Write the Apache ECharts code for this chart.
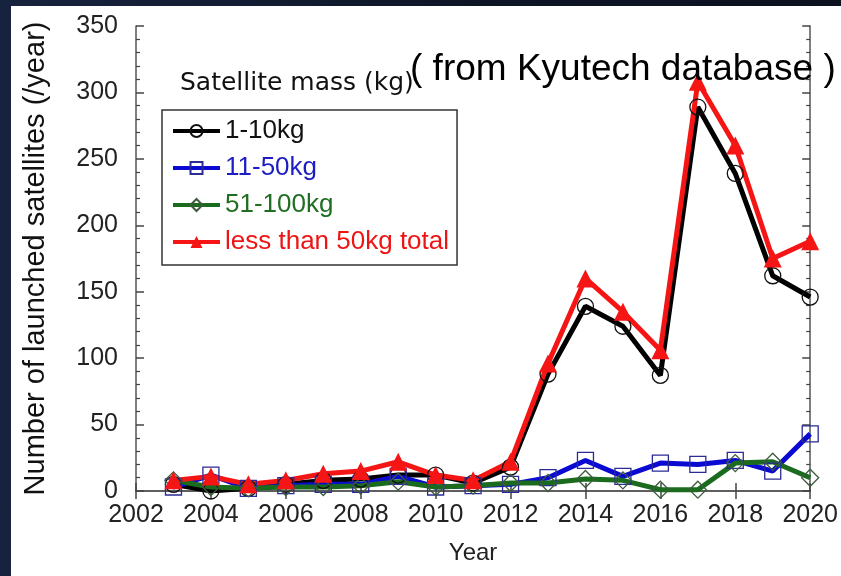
<!DOCTYPE html>
<html>
<head>
<meta charset="utf-8">
<script src="https://cdn.jsdelivr.net/npm/echarts@6/dist/echarts.min.js"></script>
<style>
  html, body { margin: 0; padding: 0; }
  body { width: 841px; height: 576px; background: linear-gradient(90deg, #17233e 0%, #0d1424 60%, #0b111f 100%); position: relative; overflow: hidden; }
  #paper { position: absolute; left: 11px; top: 6px; right: 0; bottom: 0; background: #fff; }
  #chart { position: absolute; left: 0; top: 0; width: 841px; height: 576px; }
</style>
</head>
<body>
<div id="paper"></div>
<div id="chart"></div>
<script>
const years = [2003, 2004, 2005, 2006, 2007, 2008, 2009, 2010, 2011, 2012, 2013, 2014, 2015, 2016, 2017, 2018, 2019, 2020];
const mass1to10 = [5, 0, 2, 5, 8, 9, 12, 12, 6, 18, 88, 139, 124, 87, 289, 239, 162, 146];
const mass11to50 = [3, 12, 2, 4, 5, 5, 11, 3, 4, 5, 10, 23, 11, 21, 20, 23, 15, 43];
const mass51to100 = [8, 3, 2, 3, 3, 4, 7, 3, 4, 6, 6, 9, 8, 1, 1, 21, 22, 10];
const under50Total = [8, 11, 5, 8, 13, 15, 22, 12, 8, 22, 96, 160, 135, 106, 308, 260, 175, 188];
const seriesNames = ['1-10kg', '11-50kg', '51-100kg', 'less than 50kg total'];

const font = 'Liberation Sans, Arial, Helvetica, sans-serif';
const pairs = vals => years.map((y, i) => [y, vals[i]]);

const myChart = echarts.init(document.querySelector('#chart'));

const axisLine = { show: true, lineStyle: { color: '#555', width: 1.5 } };

function makeSeries(name, vals, color, symbol, size, fill, border, width) {
  return {
    name: name,
    type: 'line',
    data: pairs(vals),
    symbol: symbol,
    symbolSize: size,
    showAllSymbol: true,
    lineStyle: { color: color, width: width },
    itemStyle: { color: fill, borderColor: border, borderWidth: fill === border ? 0 : 1.3 },
    emphasis: { disabled: true },
    animation: false
  };
}

myChart.setOption({
  animation: false,
  grid: { left: 136, right: 28, top: 26, bottom: 85 },
  legend: {
    orient: 'vertical',
    left: 162,
    top: 110,
    padding: [8, 8, 10, 9],
    itemWidth: 47,
    itemHeight: 15,
    itemGap: 11,
    borderColor: '#333',
    borderWidth: 1.5,
    backgroundColor: '#fff',
    textStyle: { fontFamily: font, fontSize: 26 },
    data: [
      { name: seriesNames[0], textStyle: { color: '#111' }, lineStyle: { width: 4 } },
      { name: seriesNames[1], textStyle: { color: '#1d1dc4' }, lineStyle: { width: 4 } },
      { name: seriesNames[2], textStyle: { color: '#1f6e22' }, lineStyle: { width: 4 } },
      { name: seriesNames[3], textStyle: { color: '#ee1414' }, lineStyle: { width: 4 } }
    ]
  },
  graphic: [
    {
      type: 'text', left: 180, top: 71, z: 100,
      style: { text: 'Satellite mass (kg)', fontFamily: 'DejaVu Sans', fontSize: 25, fill: '#111' }
    },
    {
      type: 'text', left: 410, top: 51, z: 100,
      style: { text: '( from Kyutech database )', fontFamily: font, fontSize: 37, fill: '#000' }
    }
  ],
  xAxis: [
    {
      type: 'value', min: 2002, max: 2020, interval: 2, position: 'bottom',
      name: 'Year', nameLocation: 'middle', nameGap: 50,
      nameTextStyle: { fontFamily: font, fontSize: 24, color: '#222' },
      axisLine: axisLine,
      axisTick: { show: true, inside: true, length: 8, lineStyle: { color: '#444', width: 1.5 } },
      axisLabel: { fontFamily: font, fontSize: 25, color: '#222', margin: 12, formatter: v => String(v) },
      splitLine: { show: false }
    },
    {
      type: 'value', min: 2002, max: 2020, interval: 2, position: 'top',
      axisLine: axisLine,
      axisTick: { show: true, inside: true, length: 8, lineStyle: { color: '#444', width: 1.5 } },
      axisLabel: { show: false },
      splitLine: { show: false }
    }
  ],
  yAxis: [
    {
      type: 'value', min: 0, max: 350, interval: 50, position: 'left',
      name: 'Number of launched satellites (/year)', nameLocation: 'middle', nameGap: 86,
      nameTextStyle: { fontFamily: font, fontSize: 29, color: '#111' },
      axisLine: axisLine,
      axisTick: { show: true, inside: true, length: 8, lineStyle: { color: '#444', width: 1.5 } },
      minorTick: { show: true, splitNumber: 5, length: 4, lineStyle: { color: '#444', width: 1.2 } },
      axisLabel: { fontFamily: font, fontSize: 25, color: '#222', margin: 18 },
      splitLine: { show: false }
    },
    {
      type: 'value', min: 0, max: 350, interval: 50, position: 'right',
      axisLine: axisLine,
      axisTick: { show: true, inside: true, length: 8, lineStyle: { color: '#444', width: 1.5 } },
      minorTick: { show: true, splitNumber: 5, length: 4, lineStyle: { color: '#444', width: 1.2 } },
      axisLabel: { show: false },
      splitLine: { show: false }
    }
  ],
  series: [
    makeSeries(seriesNames[0], mass1to10, '#000', 'circle', 16, 'rgba(0,0,0,0)', '#111', 5),
    makeSeries(seriesNames[1], mass11to50, '#0a0ad2', 'rect', 16, 'rgba(0,0,0,0)', '#2b2b98', 5),
    makeSeries(seriesNames[2], mass51to100, '#1b6b1f', 'diamond', 17, 'rgba(0,0,0,0)', '#3d5a3d', 5),
    makeSeries(seriesNames[3], under50Total, '#f51515', 'triangle', 18, '#f51515', '#f51515', 5)
  ]
});
</script>
</body>
</html>
